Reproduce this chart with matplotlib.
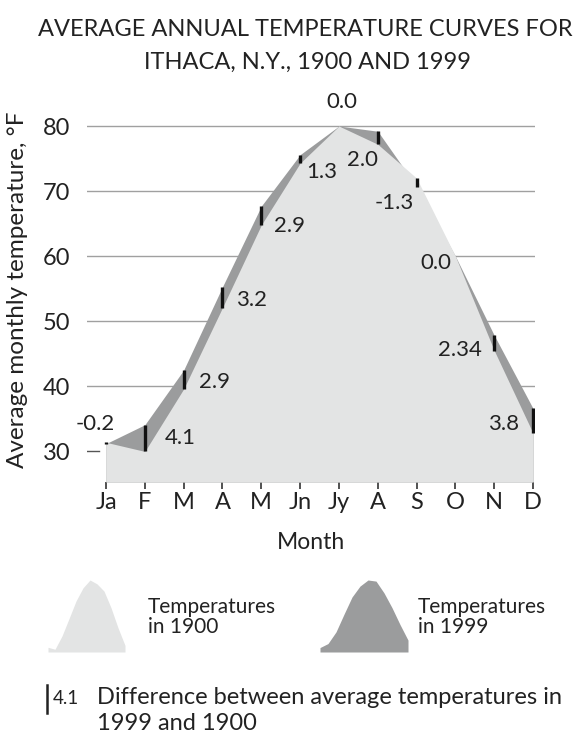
import matplotlib
matplotlib.use("Agg")
import matplotlib.pyplot as plt
from matplotlib.lines import Line2D
import numpy as np

plt.rcParams['font.family'] = ['Lato', 'DejaVu Sans']

months = ["Ja", "F", "M", "A", "M", "Jn", "Jy", "A", "S", "O", "N", "D"]
t1900 = [31.4, 30.0, 39.6, 52.1, 64.8, 74.3, 80.0, 77.2, 72.0, 60.0, 45.5, 32.8]
t1999 = [31.2, 34.1, 42.5, 55.3, 67.7, 75.6, 80.0, 79.2, 70.7, 60.0, 47.84, 36.6]
diff_labels = ["-0.2", "4.1", "2.9", "3.2", "2.9", "1.3", "0.0", "2.0", "-1.3", "0.0", "2.34", "3.8"]
yticks = [30, 40, 50, 60, 70, 80]

LIGHT = "#e3e4e4"
DARK = "#9b9c9d"
GRID = "#a0a0a0"
TXT = "#222222"

fig = plt.figure(figsize=(5.86, 7.40), dpi=100)
W, H = 586, 740

def fx(px):
    return px / W

def fy(py):
    return 1 - py / H

ymin, ymax = 25.3, 84.0
ax = fig.add_axes([fx(87), fy(482), fx(535) - fx(87), fy(100) - fy(482)])
ax.set_xlim(-0.49, 11.05)
ax.set_ylim(ymin, ymax)
x = np.arange(len(months))

# gridlines
for v in yticks:
    if v == yticks[0]:
        ax.plot([-0.49, -0.17], [v, v], color="#555555", lw=1.0, zorder=1)
    else:
        ax.axhline(v, color=GRID, lw=1.0, zorder=1)

ax.fill_between(x, t1999, ymin, color=DARK, lw=0, zorder=2)
ax.fill_between(x, t1900, ymin, color=LIGHT, lw=0, zorder=3)
ax.vlines(x, t1900, t1999, color="#111111", lw=2.4, zorder=4)

offsets = [(-11, 18), (35, 13), (31, 7), (29, 8), (28, -1), (22, -9),
           (3, 24), (-15, -16), (-22, -25), (-20, -7), (-34, 1), (-29, 9)]
for i, lab in enumerate(diff_labels):
    ax.annotate(lab, xy=(x[i], t1900[i]), xytext=offsets[i], textcoords="offset pixels",
                ha="center", va="center", fontsize=16, color=TXT, zorder=5)

for s in ax.spines.values():
    s.set_visible(False)
ax.set_yticks(yticks)
ax.set_yticklabels([str(v) for v in yticks], fontsize=17, color=TXT)
ax.tick_params(axis="y", length=0, pad=12)
ax.set_xticks(x)
ax.set_xticklabels(months, fontsize=17, color=TXT)
ax.tick_params(axis="x", length=5, width=1.2, color="#333333", pad=2)
ax.set_xlabel("Month", fontsize=16.5, color=TXT, labelpad=14)

fig.text(fx(18), fy(290), "Average monthly temperature, °F", rotation=90,
         ha="center", va="center", fontsize=17.5, color=TXT)

fig.text(fx(305), fy(30), "AVERAGE ANNUAL TEMPERATURE CURVES FOR", ha="center", va="center",
         fontsize=17, color=TXT)
fig.text(fx(308), fy(62), "ITHACA, N.Y., 1900 AND 1999", ha="center", va="center",
         fontsize=17, color=TXT)

# legend icons
for rect, vals, col in [((48, 580, 125, 652), t1900, LIGHT), ((320, 580, 408, 652), t1999, DARK)]:
    x0, y0, x1, y1 = rect
    lax = fig.add_axes([fx(x0), fy(y1), fx(x1) - fx(x0), fy(y0) - fy(y1)])
    lax.fill_between(x, vals, 28, color=col, lw=0)
    lax.set_xlim(0, 11)
    lax.set_ylim(28, 80)
    lax.axis("off")

fig.text(fx(148), fy(617), "Temperatures\nin 1900", ha="left", va="center", fontsize=15,
         color=TXT, linespacing=1.0)
fig.text(fx(418), fy(617), "Temperatures\nin 1999", ha="left", va="center", fontsize=15,
         color=TXT, linespacing=1.0)

# footnote
fig.add_artist(Line2D([fx(47), fx(47)], [fy(713), fy(685)], color="#222222", lw=1.8))
fig.text(fx(53), fy(699), "4.1", ha="left", va="center", fontsize=13.5, color=TXT)
fig.text(fx(97), fy(698), "Difference between average temperatures in", ha="left",
         va="center", fontsize=17, color=TXT)
fig.text(fx(97), fy(724), "1999 and 1900", ha="left", va="center", fontsize=17, color=TXT)

fig.savefig("out.png", dpi=100)
